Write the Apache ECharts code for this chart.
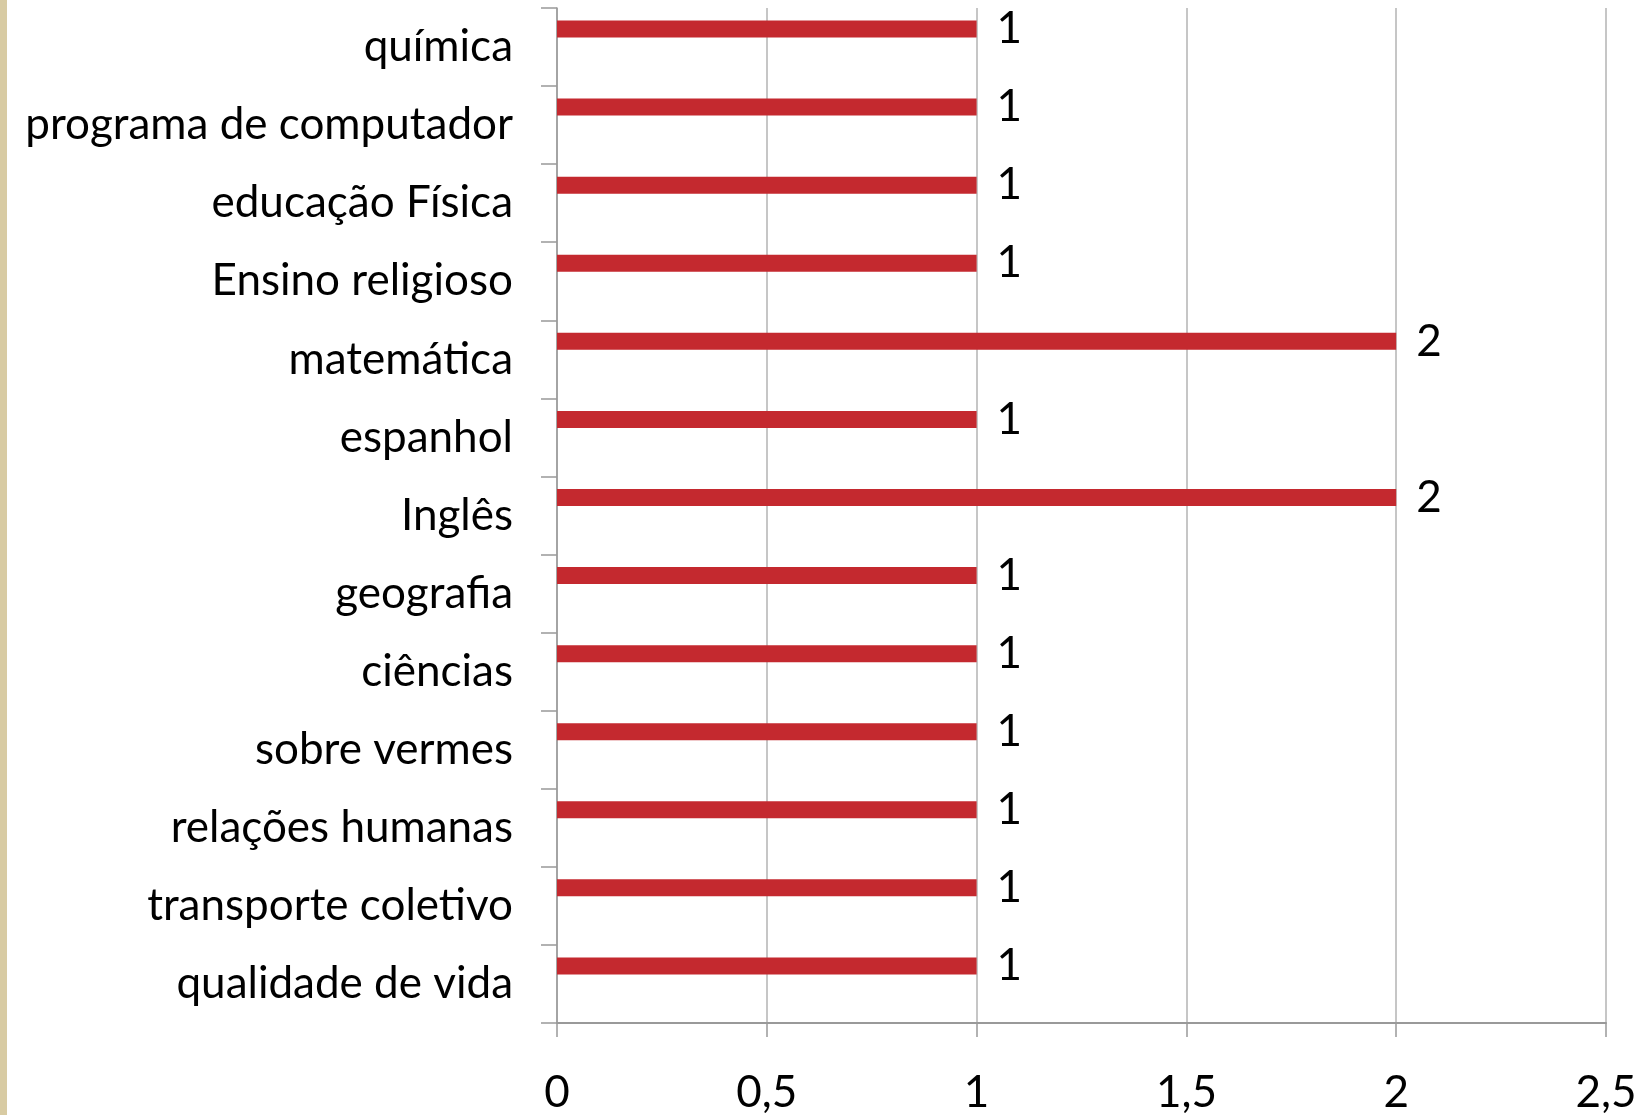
<!DOCTYPE html>
<html>
<head>
<meta charset="utf-8">
<title>Temas</title>
<script src="https://cdn.jsdelivr.net/npm/echarts@6/dist/echarts.min.js"></script>
<style>
  html, body { margin: 0; padding: 0; background: #fff; }
  #strip { position: absolute; left: 0; top: 0; width: 7px; height: 1115px; background: #d8cba3; }
  #grafico { position: absolute; left: 0; top: 0; width: 1651px; height: 1115px; }
</style>
</head>
<body>
<div id="strip"></div>
<div id="grafico"></div>
<script>
// categorias de cima para baixo
var categorias = [
  'química',
  'programa de computador',
  'educação Física',
  'Ensino religioso',
  'matemática',
  'espanhol',
  'Inglês',
  'geografia',
  'ciências',
  'sobre vermes',
  'relações humanas',
  'transporte coletivo',
  'qualidade de vida'
]
var valores = [1, 1, 1, 1, 2, 1, 2, 1, 1, 1, 1, 1, 1]
// segunda série vazia (como no Excel), só ocupa o espaço
var serie2 = [null, null, null, null, null, null, null, null, null, null, null, null, null]
var ticksX = [0, 0.5, 1, 1.5, 2, 2.5]

var fonte = 'Lato, "Open Sans", sans-serif'

var chart = echarts.init(document.getElementById('grafico'))
chart.setOption({
  animation: false,
  grid: { left: 557, right: 45, top: 8, bottom: 92 },
  xAxis: {
    type: 'value',
    min: ticksX[0],
    max: ticksX[ticksX.length - 1],
    interval: 0.5,
    axisLine: { show: true, lineStyle: { color: '#999', width: 2 } },
    axisTick: { show: true, length: 14, lineStyle: { color: '#999', width: 1.5 } },
    splitLine: { show: true, lineStyle: { color: '#b3b3b3', width: 1.5 } },
    axisLabel: {
      margin: 48,
      fontFamily: fonte,
      fontSize: 44,
      color: '#000',
      formatter: function (v) { return String(v).replace('.', ',') }
    }
  },
  yAxis: {
    type: 'category',
    inverse: true,
    data: categorias,
    axisLine: { show: true, lineStyle: { color: '#999', width: 1.5 } },
    axisTick: { show: true, length: 16, lineStyle: { color: '#999', width: 1.5 } },
    axisLabel: {
      margin: 44,
      fontFamily: fonte,
      fontSize: 44,
      color: '#000'
    }
  },
  series: [
    {
      name: 'Série 1',
      type: 'bar',
      data: valores,
      barWidth: 17,
      barGap: '112%',
      itemStyle: { color: '#c4292f' },
      label: {
        show: true,
        position: 'right',
        distance: 20,
        fontFamily: fonte,
        fontSize: 44,
        color: '#000'
      }
    },
    {
      name: 'Série 2',
      type: 'bar',
      data: serie2,
      barWidth: 17,
      itemStyle: { color: '#c4292f' }
    }
  ]
})
</script>
</body>
</html>
